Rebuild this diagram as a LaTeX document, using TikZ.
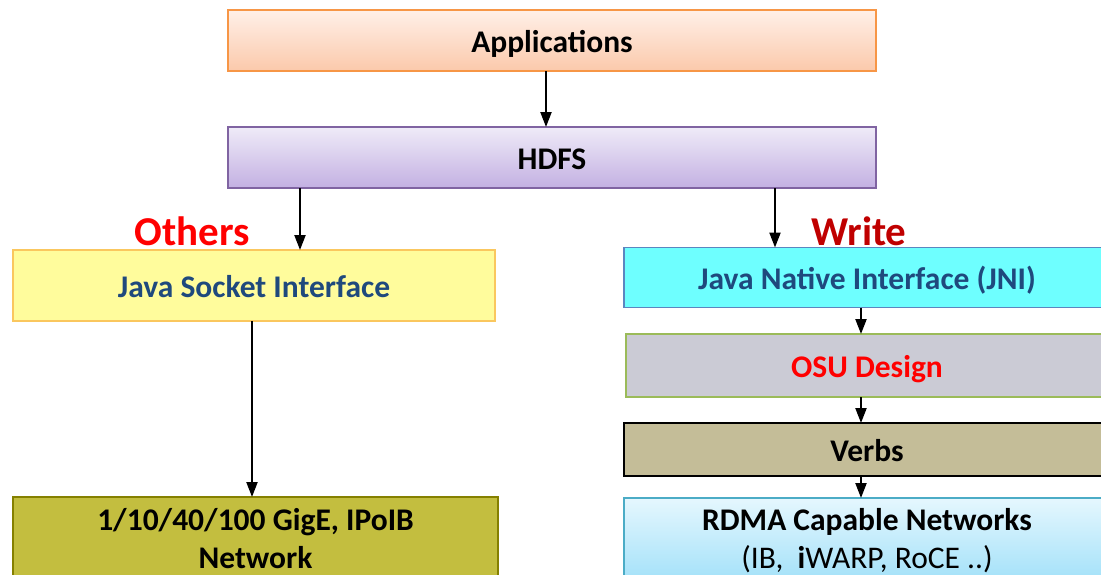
\documentclass[tikz,border=0pt]{standalone}
\usepackage{fontspec}
\setmainfont{Carlito}
\usetikzlibrary{arrows.meta}
\definecolor{appB}{HTML}{F79646}
\definecolor{appT}{HTML}{FFF0E8}
\definecolor{appL}{HTML}{FBC9AB}
\definecolor{hdB}{HTML}{8064A2}
\definecolor{hdT}{HTML}{EFEBF8}
\definecolor{hdL}{HTML}{C3B0E2}
\definecolor{jsF}{HTML}{FFFC9C}
\definecolor{jsB}{HTML}{FAC75E}
\definecolor{jnF}{HTML}{6EFFFF}
\definecolor{jnB}{HTML}{5B86C0}
\definecolor{osF}{HTML}{CBCBD5}
\definecolor{osB}{HTML}{9BBB59}
\definecolor{vbF}{HTML}{C4BD98}
\definecolor{rdB}{HTML}{4BACC6}
\definecolor{rdT}{HTML}{E5F7FE}
\definecolor{rdL}{HTML}{A6E2F9}
\definecolor{ggF}{HTML}{C3BE3F}
\definecolor{ggB}{HTML}{858000}
\definecolor{txtblue}{HTML}{1F497D}
\definecolor{wred}{HTML}{C00000}
\begin{document}
\begin{tikzpicture}[x=1pt,y=-1pt,
  box/.style={draw, line width=1.5pt, inner sep=0pt, outer sep=0pt,
    font=\fontsize{31.5}{38}\selectfont\bfseries, text height=23.5pt, text depth=0pt},
  twoline/.style={align=center, text height=61.5pt, text depth=0pt},
  lbl/.style={font=\fontsize{41}{48}\selectfont\bfseries, anchor=base, inner sep=0pt},
  arr/.style={line width=2.2pt, -{Triangle[length=15pt,width=11pt]}}]
\useasboundingbox (0,0) rectangle (1101,574);
\clip (0,0) rectangle (1101,574);
\node[box, draw=appB, top color=appT, bottom color=appL, minimum width=648pt, minimum height=61pt] (app) at (552,40.5) {Applications};
\node[box, draw=hdB, top color=hdT, bottom color=hdL, minimum width=648pt, minimum height=61pt] (hdfs) at (552,157.5) {HDFS};
\node[box, draw=jsB, fill=jsF, text=txtblue, minimum width=482pt, minimum height=71pt] (jsi) at (254,285.5) {Java Socket Interface};
\node[box, draw=jnB, fill=jnF, text=txtblue, minimum width=486pt, minimum height=60pt] (jni) at (867,277.5) {Java Native Interface (JNI)};
\node[box, draw=osB, fill=osF, text=red, minimum width=482pt, minimum height=63pt] (osu) at (867,365.5) {OSU Design};
\node[box, draw=black, fill=vbF, minimum width=486pt, minimum height=53pt] (verbs) at (867,449.5) {Verbs};
\node[box, twoline, draw=rdB, top color=rdT, bottom color=rdL, minimum width=486pt, minimum height=80pt] (rdma) at (867,538) {RDMA Capable Networks\\\mdseries(IB,\ \ \textbf{i}WARP, RoCE ..)};
\node[box, twoline, draw=ggB, fill=ggF, minimum width=485pt, minimum height=82pt] (gige) at (255.5,538) {1/10/40/100 GigE, IPoIB\\Network};
\node[lbl, text=red] (others) at (192,245) {Others};
\node[lbl, text=wred] (write) at (859,245) {Write};
\draw[arr] (app.south -| 546,0) -- (hdfs.north -| 546,0);
\draw[arr] (hdfs.south -| 300,0) -- (jsi.north -| 300,0);
\draw[arr] (hdfs.south -| 775,0) -- (jni.north -| 775,0);
\draw[arr] (jsi.south -| 252,0) -- (gige.north -| 252,0);
\draw[arr] (jni.south -| 861,0) -- (osu.north -| 861,0);
\draw[arr] (osu.south -| 861,0) -- (verbs.north -| 861,0);
\draw[arr] (verbs.south -| 861,0) -- (rdma.north -| 861,0);
\end{tikzpicture}
\end{document}
